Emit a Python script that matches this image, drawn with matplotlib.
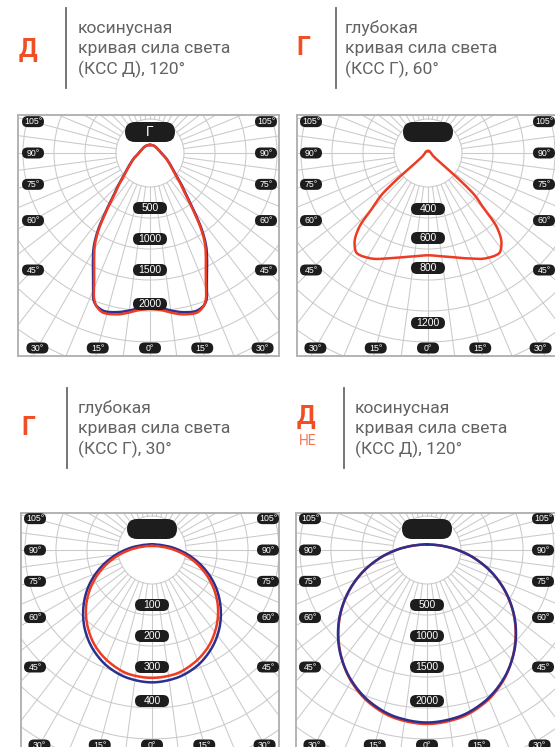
import numpy as np
import matplotlib.pyplot as plt
from matplotlib.patches import FancyBboxPatch, Circle
from matplotlib.lines import Line2D

W, H = 555, 747

# luminous intensity (cd) against angle from nadir (deg), symmetric planes
p1_gamma = [0, 4, 8, 12, 16, 19, 21, 23, 25, 28, 31, 34, 37, 41, 45, 48, 55, 68, 90, 125, 180]
p1_red = [2080, 2100, 2153, 2200, 2220, 2173, 2080, 1907, 1760, 1587, 1427, 1213, 960, 707, 573, 480, 360, 245, 147, 113, 107]
p1_blue = [2060, 2075, 2125, 2170, 2195, 2165, 2100, 1940, 1795, 1620, 1455, 1240, 985, 730, 590, 495, 370, 250, 150, 113, 107]

p2_gamma = [0, 10, 20, 29, 35, 39, 43, 45.5, 48, 50, 51, 53, 60, 90, 180]
p2_red = [722, 743, 791, 849, 868, 824, 708, 541, 438, 247, 141, 85, 42, 21, 14]

p3_gamma = [0, 10, 20, 30, 40, 50, 60, 70, 80, 90, 100, 110, 120, 135, 150, 180]
p3_red = [341, 337, 322, 299, 267, 229, 185, 139, 95, 60, 38, 26, 20, 15, 12, 11]
p3_blue = [353, 348, 334, 310, 278, 239, 196, 150, 107, 72, 49, 34, 27, 20, 17, 15]

p4_gamma = [0, 10, 20, 30, 40, 50, 60, 70, 80, 90, 100, 110, 120, 135, 150, 180]
p4_red = [2320, 2287, 2188, 2022, 1795, 1535, 1243, 938, 645, 410, 260, 179, 135, 101, 84, 73]
p4_blue = [2300, 2267, 2171, 2012, 1800, 1541, 1248, 941, 647, 411, 260, 179, 135, 101, 84, 73]

p1_labels = ['500', '1000', '1500', '2000']
p2_labels = ['400', '600', '800', '1200']
p3_labels = ['100', '200', '300', '400']
p4_labels = ['500', '1000', '1500', '2000']

side_angles = [105, 90, 75, 60, 45]
bottom_angles = [-30, -15, 0, 15, 30]

RED = '#ee3b24'
BLUE = '#2d2f8e'
GRID = '#cacaca'
PILL = '#1d1d1d'
ORANGE = '#f04e23'
TEXT = '#636363'


def pchip(x, y, xn):
    # monotone cubic so the curves come out smooth without overshoot
    h = np.diff(x)
    d = np.diff(y) / h
    m = np.zeros_like(y)
    m[0], m[-1] = d[0], d[-1]
    for i in range(1, len(x) - 1):
        if d[i - 1] * d[i] > 0:
            w1 = 2 * h[i] + h[i - 1]
            w2 = h[i] + 2 * h[i - 1]
            m[i] = (w1 + w2) / (w1 / d[i - 1] + w2 / d[i])
    idx = np.clip(np.searchsorted(x, xn) - 1, 0, len(x) - 2)
    t = (xn - x[idx]) / h[idx]
    return ((2 * t**3 - 3 * t**2 + 1) * y[idx] + (t**3 - 2 * t**2 + t) * h[idx] * m[idx]
            + (-2 * t**3 + 3 * t**2) * y[idx + 1] + (t**3 - t**2) * h[idx] * m[idx + 1])


def pill(ax, x, y, w, h, text, fs):
    ax.add_patch(FancyBboxPatch((x - w / 2, y - h / 2), w, h,
                                boxstyle=f'round,pad=0,rounding_size={h / 2}',
                                fc=PILL, ec='none', zorder=5))
    if text:
        ax.text(x, y - 0.3, text, color='white', fontsize=fs, ha='center', va='center',
                family=['Liberation Sans', 'DejaVu Sans'], zorder=6)


def polar_curve(ax, gamma, cd, scale, color, lw=1.8):
    g = np.asarray(gamma, float)
    v = np.asarray(cd, float)
    g_full = np.concatenate([-g[::-1], g[1:]])
    v_full = np.concatenate([v[::-1], v[1:]])
    gf = np.linspace(-180, 180, 2881)
    r = pchip(g_full, v_full, gf) * scale
    t = np.radians(gf)
    ax.plot(r * np.sin(t), -r * np.cos(t), color=color, lw=lw, zorder=4,
            solid_joinstyle='round')


def make_panel(box, center, labels, slots, curves, top_text):
    x0, y0, x1, y1 = box
    cx, cy = center
    ax = fig.add_axes([x0 / W, 1 - y1 / H, (x1 - x0) / W, (y1 - y0) / H])
    ax.set_xlim(x0 - cx, x1 - cx)
    ax.set_ylim(cy - y1, cy - y0)
    ax.set_xticks([])
    ax.set_yticks([])
    for s in ax.spines.values():
        s.set_color('#b3b3b3')
        s.set_linewidth(1.4)

    # grid: radial lines and rings
    for a in np.arange(0, 360, 7.5):
        t = np.radians(a)
        ax.plot([34 * np.sin(t), 400 * np.sin(t)], [-34 * np.cos(t), -400 * np.cos(t)],
                color=GRID, lw=0.75, zorder=1)
    for r in [34, 65, 96, 127, 158, 189, 220, 251, 282]:
        ax.add_patch(Circle((0, 0), r, fill=False, ec=GRID, lw=0.75, zorder=1))

    for gamma, cd, scale, color in curves:
        polar_curve(ax, gamma, cd, scale, color)

    pill(ax, 0, 21, 50, 20, top_text, 10)
    for lab, r in zip(labels, slots):
        pill(ax, 0, -r, 34, 12, lab, 7.5)
    for a in side_angles:
        y = 117 / np.tan(np.radians(a)) if a != 90 else 0
        pill(ax, -117, -y, 22, 11, f'{a}°', 6.3)
        pill(ax, 116, -y, 22, 11, f'{a}°', 6.3)
    for a in bottom_angles:
        pill(ax, 195 * np.tan(np.radians(a)), -195, 22, 11, f'{abs(a)}°', 6.3)
    return ax


def header(letter, lx, ly, line_x, y_top, text_x, lines, sub=None):
    fig.text(lx / W, 1 - ly / H, letter, color=ORANGE, fontsize=18, fontweight='bold',
             ha='center', va='center', family=['Roboto', 'DejaVu Sans'])
    if sub:
        fig.text((lx + 2) / W, 1 - (ly + 24) / H, sub, color='#f37650', fontsize=10,
                 ha='center', va='center', family=['Roboto', 'DejaVu Sans'])
    fig.add_artist(Line2D([line_x / W, line_x / W], [1 - y_top / H, 1 - (y_top + 80) / H],
                          color='#6a6a6a', lw=1.3))
    for i, s in enumerate(lines):
        fig.text(text_x / W, 1 - (y_top + 20 + 20.5 * i) / H, s, color=TEXT, fontsize=12.6,
                 ha='left', va='center', family=['Roboto', 'DejaVu Sans'])


fig = plt.figure(figsize=(W / 100, H / 100), dpi=100)

slots = [55, 86, 117, 151]
make_panel((18, 115, 279, 356), (150, 153), p1_labels, slots,
           [(p1_gamma, p1_blue, 150 / 2000, BLUE), (p1_gamma, p1_red, 150 / 2000, RED)], 'Г')
make_panel((297, 115, 560, 356), (428, 153), p2_labels, [56, 85, 115, 170],
           [(p2_gamma, p2_red, 170 / 1200, RED)], '')
make_panel((21, 513, 279, 762), (152, 550), p3_labels, slots,
           [(p3_gamma, p3_blue, 150 / 400, BLUE), (p3_gamma, p3_red, 150 / 400, RED)], '')
make_panel((296, 513, 560, 762), (427, 550), p4_labels, slots,
           [(p4_gamma, p4_red, 150 / 2000, RED), (p4_gamma, p4_blue, 150 / 2000, BLUE)], '')

header('Д', 28, 50, 66, 8, 78, ['косинусная', 'кривая сила света', '(КСС Д), 120°'])
header('Г', 303, 48, 336, 8, 345, ['глубокая', 'кривая сила света', '(КСС Г), 60°'])
header('Г', 28, 428, 67, 388, 78, ['глубокая', 'кривая сила света', '(КСС Г), 30°'])
header('Д', 306, 417, 344, 388, 355, ['косинусная', 'кривая сила света', '(КСС Д), 120°'], sub='НЕ')

fig.savefig('out.png', dpi=100)
